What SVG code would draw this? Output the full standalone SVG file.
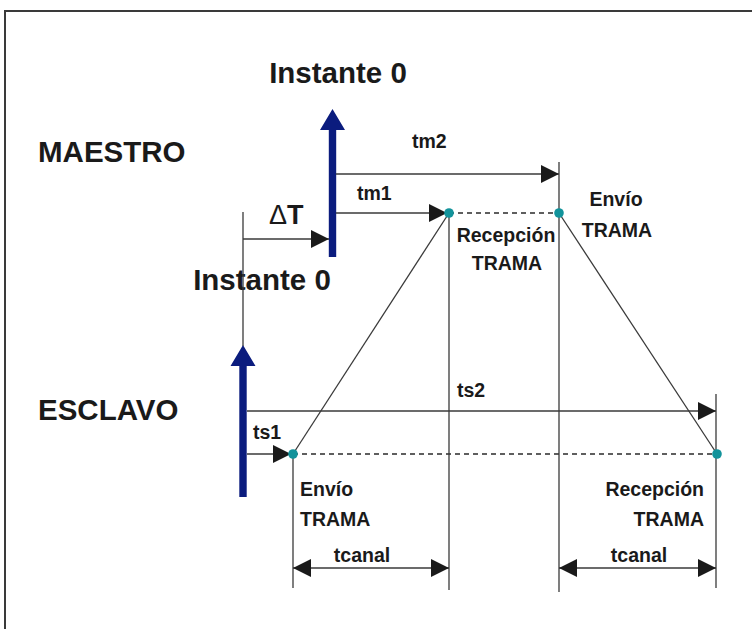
<svg xmlns="http://www.w3.org/2000/svg" width="752" height="629" viewBox="0 0 752 629">
  <style>
    .lbl { font-family: "Liberation Sans", Arial, sans-serif; font-weight: bold; fill: #1a1a1a; }
    .big { font-size: 29.5px; }
    .sm { font-size: 19.5px; }
    .ln { stroke: #3a3a3a; stroke-width: 1.3; fill: none; }
    .dash { stroke: #2a2a2a; stroke-width: 1.3; stroke-dasharray: 5 4; fill: none; }
    .arr { stroke: #3a3a3a; stroke-width: 1.3; fill: none; marker-end: url(#head); }
    .dbl { stroke: #3a3a3a; stroke-width: 1.3; fill: none; marker-start: url(#headStart); marker-end: url(#head); }
    .blue { fill: #0b1c7e; }
    .dot { fill: #12939b; }
  </style>
  <defs>
    <marker id="head" viewBox="0 0 18 18" refX="18" refY="9" markerWidth="18" markerHeight="18" markerUnits="userSpaceOnUse" orient="auto">
      <path d="M0,0 L18,9 L0,18 Z" fill="#1a1a1a"/>
    </marker>
    <marker id="headStart" viewBox="0 0 18 18" refX="0" refY="9" markerWidth="18" markerHeight="18" markerUnits="userSpaceOnUse" orient="auto">
      <path d="M18,0 L0,9 L18,18 Z" fill="#1a1a1a"/>
    </marker>
  </defs>

  <rect width="752" height="629" fill="#ffffff"/>
  <!-- frame -->
  <path d="M5,629 L5,11 L752,11" stroke="#3a3a3a" stroke-width="2" fill="none"/>

  <!-- side labels -->
  <g id="maestro"><text class="lbl big" x="38" y="162">MAESTRO</text></g>
  <g id="esclavo"><text class="lbl big" x="38" y="420">ESCLAVO</text></g>

  <!-- master time origin -->
  <g id="master-instant">
    <text class="lbl big" x="338" y="83" text-anchor="middle">Instante 0</text>
    <path class="blue" d="M332.5,109 L345,130 L336.2,130 L336.2,257 L328.8,257 L328.8,130 L320,130 Z"/>
  </g>

  <!-- slave time origin -->
  <g id="slave-instant">
    <text class="lbl big" x="262" y="290" text-anchor="middle">Instante 0</text>
    <path class="blue" d="M243,345 L255.5,366 L246.7,366 L246.7,497 L239.3,497 L239.3,366 L230.5,366 Z"/>
  </g>

  <!-- connectors -->
  <g id="connectors">
    <!-- offset between clocks -->
    <line class="ln" x1="243" y1="212" x2="243" y2="346"/>
    <line class="arr" x1="243" y1="239" x2="329" y2="239"/>
    <!-- master intervals -->
    <line class="arr" x1="336" y1="213" x2="447" y2="213"/>
    <line class="arr" x1="336" y1="174" x2="559" y2="174"/>
    <!-- slave intervals -->
    <line class="arr" x1="247" y1="454" x2="291" y2="454"/>
    <line class="arr" x1="247" y1="411" x2="716" y2="411"/>
    <!-- frame paths -->
    <line class="ln" x1="293" y1="454" x2="449" y2="213"/>
    <line class="ln" x1="559" y1="213" x2="717" y2="454"/>
    <line class="dash" x1="449" y1="213" x2="559" y2="213"/>
    <line class="dash" x1="293" y1="454" x2="717" y2="454"/>
    <!-- reference verticals -->
    <line class="ln" x1="449" y1="213" x2="449" y2="590"/>
    <line class="ln" x1="559" y1="162" x2="559" y2="592"/>
    <line class="ln" x1="293" y1="454" x2="293" y2="588"/>
    <line class="ln" x1="716" y1="394" x2="716" y2="588"/>
    <!-- channel times -->
    <line class="dbl" x1="293" y1="568" x2="449" y2="568"/>
    <line class="dbl" x1="559" y1="568" x2="716" y2="568"/>
  </g>

  <!-- event points -->
  <g id="events">
    <circle class="dot" cx="449" cy="213" r="4.8"/>
    <circle class="dot" cx="559" cy="213" r="4.8"/>
    <circle class="dot" cx="293" cy="454" r="4.8"/>
    <circle class="dot" cx="717" cy="454" r="4.8"/>
  </g>

  <!-- interval labels -->
  <g id="labels">
    <text class="lbl" x="269" y="224" font-size="27"><tspan font-weight="normal">Δ</tspan>T</text>
    <text class="lbl sm" x="357" y="200">tm1</text>
    <text class="lbl sm" x="412" y="148">tm2</text>
    <text class="lbl sm" x="253" y="439">ts1</text>
    <text class="lbl sm" x="457" y="397">ts2</text>
    <text class="lbl sm" x="362" y="562" text-anchor="middle">tcanal</text>
    <text class="lbl sm" x="639" y="562" text-anchor="middle">tcanal</text>
  </g>

  <g id="rx-master">
    <text class="lbl sm" x="506" y="242" text-anchor="middle">Recepción</text>
    <text class="lbl sm" x="507" y="270" text-anchor="middle">TRAMA</text>
  </g>
  <g id="tx-master">
    <text class="lbl sm" x="616" y="206" text-anchor="middle">Envío</text>
    <text class="lbl sm" x="617" y="237" text-anchor="middle">TRAMA</text>
  </g>
  <g id="tx-slave">
    <text class="lbl sm" x="300" y="496">Envío</text>
    <text class="lbl sm" x="300" y="526">TRAMA</text>
  </g>
  <g id="rx-slave">
    <text class="lbl sm" x="704" y="496" text-anchor="end">Recepción</text>
    <text class="lbl sm" x="704" y="526" text-anchor="end">TRAMA</text>
  </g>
</svg>
